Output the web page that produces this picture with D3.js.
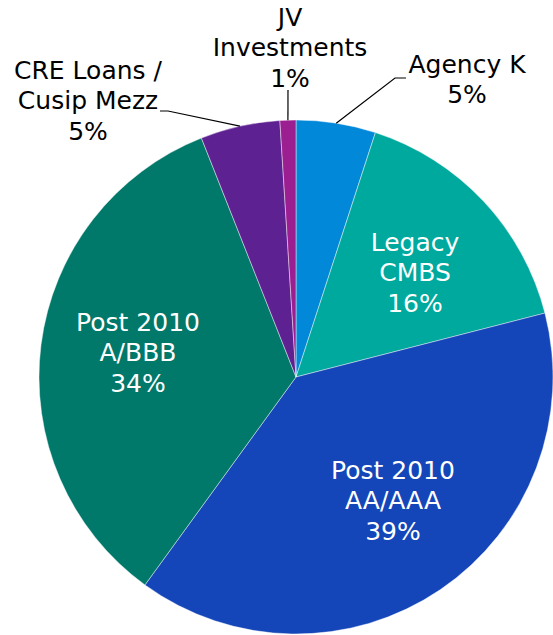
<!DOCTYPE html>
<html>
<head>
<meta charset="utf-8">
<script src="https://cdn.jsdelivr.net/npm/d3@7"></script>
<style>
  body { margin: 0; background: #fff; }
  text { font-family: "DejaVu Sans", Verdana, sans-serif; font-size: 25px; }
</style>
</head>
<body>
<script>
let width = 553
let height = 635

// data
const categories = ['Agency K', 'Legacy CMBS', 'Post 2010 AA/AAA', 'Post 2010 A/BBB', 'CRE Loans / Cusip Mezz', 'JV Investments']
const values = [5, 16, 39, 34, 5, 1]
const labelLines = [
  ['Agency K', '5%'],
  ['Legacy', 'CMBS', '16%'],
  ['Post 2010', 'AA/AAA', '39%'],
  ['Post 2010', 'A/BBB', '34%'],
  ['CRE Loans /', 'Cusip Mezz', '5%'],
  ['JV', 'Investments', '1%']
]
const colors = ['#0288d9', '#00a99d', '#1446b9', '#00786a', '#5e2192', '#9c1f92']

const cx = 296, cy = 377, r = 257
const lineH = 30.5

let svg = d3.select('body')
  .append('svg')
  .attr('width', width)
  .attr('height', height)

let g = svg.append('g').attr('transform', `translate(${cx},${cy})`)

let pie = d3.pie().sort(null).value(d => d)
let arcs = pie(values)
let arc = d3.arc().innerRadius(0).outerRadius(r)

g.selectAll('path')
  .data(arcs)
  .enter()
  .append('path')
  .attr('d', arc)
  .attr('fill', (d, i) => colors[i])
  .attr('stroke', 'rgba(255,255,255,0.55)')
  .attr('stroke-width', 0.8)

// inside labels: [dx, dy] of the middle line relative to centre
const inside = { 1: [119, -105], 2: [97, 123], 3: [-158, -25] }
// outside labels: text centre, leader knee and end
const outside = {
  0: { tx: 171, ty: -298, knee: [99, -299], end: [110, -299] },
  4: { tx: -208, ty: -277, knee: [-128, -266], end: [-136, -266] },
  5: { tx: -6, ty: -330, knee: [-8, -287], end: [-8, -287] }
}

arcs.forEach((d, i) => {
  let lines = labelLines[i]
  if (inside[i]) {
    let [dx, dy] = inside[i]
    let t = g.append('text')
      .attr('text-anchor', 'middle')
      .attr('fill', '#fff')
    lines.forEach((l, k) => {
      t.append('tspan')
        .attr('x', dx)
        .attr('y', dy + (k - (lines.length - 1) / 2) * lineH + 9)
        .text(l)
    })
  } else {
    let o = outside[i]
    let a = (d.startAngle + d.endAngle) / 2
    let start = [Math.sin(a) * r, -Math.cos(a) * r]
    g.append('polyline')
      .attr('points', [start, o.knee, o.end].map(p => p.join(',')).join(' '))
      .attr('fill', 'none')
      .attr('stroke', '#000')
      .attr('stroke-width', 1.2)
    let t = g.append('text')
      .attr('text-anchor', 'middle')
      .attr('fill', '#000')
    lines.forEach((l, k) => {
      t.append('tspan')
        .attr('x', o.tx)
        .attr('y', o.ty + (k - (lines.length - 1) / 2) * lineH + 9)
        .text(l)
    })
  }
})
</script>
</body>
</html>
